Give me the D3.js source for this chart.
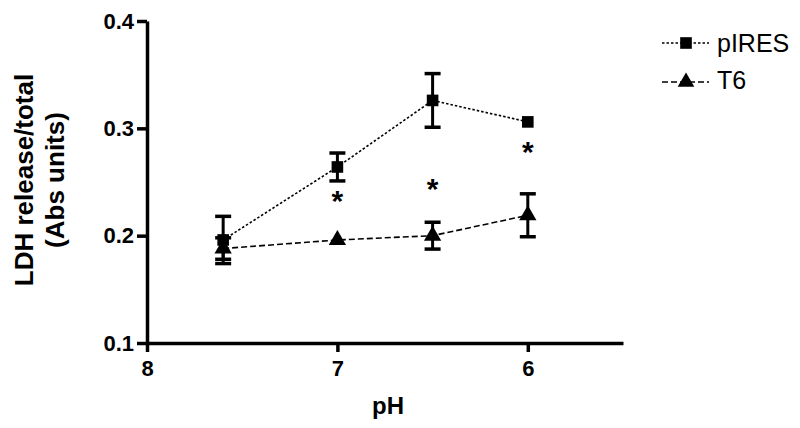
<!DOCTYPE html>
<html>
<head>
<meta charset="utf-8">
<script src="https://cdn.jsdelivr.net/npm/d3@7"></script>
<style>
body { margin: 0; background: white; }
text { font-family: "Liberation Sans", Arial, sans-serif; }
</style>
</head>
<body>
<div id="chart"></div>
<script>
// data
var phValues = [7.6, 7.0, 6.5, 6.0];
var piresMean = [0.196, 0.264, 0.326, 0.306];
var piresErr  = [0.022, 0.013, 0.025, 0];
var t6Mean    = [0.188, 0.196, 0.200, 0.219];
var t6Err     = [0.010, 0, 0.0125, 0.020];
var starPh    = [7.0, 6.5, 6.0];
var starY     = [0.243, 0.254, 0.289];
var xTicks = [8, 7, 6];
var yTicks = [0.1, 0.2, 0.3, 0.4];

var svg = d3.select("#chart").append("svg")
    .attr("width", 800)
    .attr("height", 428);

var x = d3.scaleLinear().domain([8, 5.5]).range([147, 623]);
var y = d3.scaleLinear().domain([0.1, 0.4]).range([343, 21]);

// axes
var xAxis = svg.append("g")
    .attr("transform", "translate(0," + y(0.1) + ")")
    .call(d3.axisBottom(x).tickValues(xTicks).tickFormat(d3.format("d")).tickSize(9).tickSizeOuter(0));
var yAxis = svg.append("g")
    .attr("transform", "translate(" + x(8) + ",0)")
    .call(d3.axisLeft(y).tickValues(yTicks).tickFormat(d3.format(".1f")).tickSize(10).tickSizeOuter(0));

[xAxis, yAxis].forEach(function(g) {
  g.select(".domain").attr("stroke", "#000").attr("stroke-width", 3.5);
  g.selectAll(".tick line").attr("stroke", "#000").attr("stroke-width", 3.5);
  g.selectAll(".tick text")
    .attr("fill", "#000")
    .attr("font-size", "22px")
    .attr("font-weight", "bold")
    .attr("font-family", "Liberation Sans, Arial, sans-serif");
});
xAxis.selectAll(".tick text").attr("dy", "0.95em");

// axis titles
svg.append("text")
    .attr("x", 388).attr("y", 414)
    .attr("text-anchor", "middle")
    .attr("font-size", "24px").attr("font-weight", "bold")
    .text("pH");

var yt = svg.append("text")
    .attr("transform", "translate(33,180) rotate(-90)")
    .attr("text-anchor", "middle")
    .attr("font-size", "26px").attr("font-weight", "bold");
yt.append("tspan").attr("x", 0).attr("dy", 0).text("LDH release/total");
yt.append("tspan").attr("x", 0).attr("dy", 31).text("(Abs units)");

function drawSeries(means, errs, dash, symbol, size) {
  var pts = phValues.map(function(p, i) { return [p, means[i], errs[i]]; });
  var line = d3.line().x(function(d) { return x(d[0]); }).y(function(d) { return y(d[1]); });
  svg.append("path")
      .datum(pts)
      .attr("d", line)
      .attr("fill", "none")
      .attr("stroke", "#000")
      .attr("stroke-width", 1.6)
      .attr("stroke-dasharray", dash);

  pts.forEach(function(d) {
    if (d[2] > 0) {
      var cx = x(d[0]);
      svg.append("line")
          .attr("x1", cx).attr("x2", cx)
          .attr("y1", y(d[1] - d[2])).attr("y2", y(d[1] + d[2]))
          .attr("stroke", "#000").attr("stroke-width", 3);
      [d[1] - d[2], d[1] + d[2]].forEach(function(v) {
        svg.append("line")
            .attr("x1", cx - 8).attr("x2", cx + 8)
            .attr("y1", y(v)).attr("y2", y(v))
            .attr("stroke", "#000").attr("stroke-width", 3.5);
      });
    }
  });

  svg.selectAll(null)
      .data(pts).enter()
      .append("path")
      .attr("d", d3.symbol().type(symbol).size(size))
      .attr("transform", function(d) { return "translate(" + x(d[0]) + "," + y(d[1]) + ")"; })
      .attr("fill", "#000");
}

drawSeries(piresMean, piresErr, "2.5,2", d3.symbolSquare, 135);
drawSeries(t6Mean, t6Err, "6,3", d3.symbolTriangle, 130);

// significance asterisks
starPh.forEach(function(p, i) {
  svg.append("text")
      .attr("x", x(p)).attr("y", y(starY[i]))
      .attr("text-anchor", "middle")
      .attr("font-size", "30px").attr("font-weight", "bold")
      .attr("dy", "0.72em")
      .text("*");
});

// legend
var legend = [
  { name: "pIRES", dash: "2.5,2", symbol: d3.symbolSquare, size: 135, y: 43, ty: 52 },
  { name: "T6", dash: "6,3", symbol: d3.symbolTriangle, size: 120, y: 82, ty: 89 }
];
legend.forEach(function(l) {
  svg.append("line")
      .attr("x1", 662).attr("x2", 709)
      .attr("y1", l.y).attr("y2", l.y)
      .attr("stroke", "#000").attr("stroke-width", 1.6)
      .attr("stroke-dasharray", l.dash);
  svg.append("path")
      .attr("d", d3.symbol().type(l.symbol).size(l.size))
      .attr("transform", "translate(686," + l.y + ")")
      .attr("fill", "#000");
  svg.append("text")
      .attr("x", 717).attr("y", l.ty)
      .attr("font-size", "25px")
      .text(l.name);
});
</script>
</body>
</html>
